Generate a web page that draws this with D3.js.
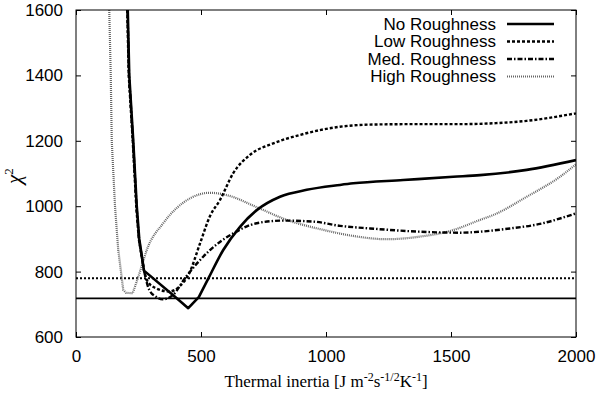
<!DOCTYPE html>
<html><head><meta charset="utf-8">
<script src="https://cdn.jsdelivr.net/npm/d3@7"></script>
<style>body{margin:0;background:#fff}</style>
</head><body>
<svg id="c" width="600" height="393"></svg>
<script>
const xTicks = [0, 500, 1000, 1500, 2000];
const yTicks = [600, 800, 1000, 1200, 1400, 1600];
const seriesNames = ["No Roughness", "Low Roughness", "Med. Roughness", "High Roughness"];
const noRough = [[207,1600],[213,1400],[229,1200],[243,1000],[253,900],[272,803],[396,723],[449,688],[492,723],[530,780],[589,866],[656,937],[723,988],[816,1029],[923,1050],[1056,1065],[1109,1070],[1309,1080],[1509,1090],[1616,1095],[1803,1111],[2000,1141]];
const lowRough = [[205,1600],[211,1400],[227,1200],[241,1000],[251,900],[272,803],[287,769],[320,749],[373,739],[413,754],[453,795],[496,886],[536,970],[576,1019],[629,1101],[696,1157],[789,1192],[896,1218],[1056,1243],[1200,1250],[1376,1251],[1536,1251],[1680,1254],[1803,1261],[2000,1284]];
const medRough = [[206,1600],[212,1400],[228,1200],[242,1000],[252,900],[272,803],[293,744],[320,723],[347,715],[387,728],[440,784],[536,866],[629,917],[723,948],[829,956],[949,953],[1056,940],[1176,932],[1376,922],[1536,919],[1616,922],[1736,932],[1850,945],[2000,978]];
const highRough = [[133,1600],[139,1400],[143,1200],[156,1000],[169,866],[189,744],[200,735],[227,734],[256,800],[283,866],[349,948],[456,1024],[536,1041],[603,1034],[723,997],[843,958],[976,930],[1109,909],[1243,899],[1376,907],[1509,927],[1616,958],[1669,973],[1803,1029],[1936,1090],[2000,1128]];
const refNo = 718;
const refLow = 780;

const svg = d3.select("#c");
const L = 76, T = 10, W = 500, H = 327;
const x = d3.scaleLinear().domain([0, 2000]).range([L, L + W]);
const y = d3.scaleLinear().domain([600, 1600]).range([T + H, T]);
const sans = "'Liberation Sans', Arial, sans-serif";
const serif = "'Liberation Serif', 'Times New Roman', serif";
const fmt = d3.format("d");

svg.append("defs").append("clipPath").attr("id", "clip")
  .append("rect").attr("x", L).attr("y", T).attr("width", W).attr("height", H);

function styleAxis(g, labels) {
  g.select(".domain").remove();
  g.selectAll(".tick line").attr("stroke", "#000").attr("stroke-width", 1);
  g.selectAll("text").attr("font-family", sans).attr("font-size", 17).attr("fill", "#000");
  if (!labels) g.selectAll("text").remove();
}
svg.append("g").attr("transform", `translate(0,${T + H})`)
  .call(d3.axisBottom(x).tickValues(xTicks).tickFormat(fmt).tickSize(-5).tickSizeOuter(0).tickPadding(13))
  .call(g => styleAxis(g, true));
svg.append("g").attr("transform", `translate(0,${T})`)
  .call(d3.axisTop(x).tickValues(xTicks).tickSize(-5).tickSizeOuter(0))
  .call(g => styleAxis(g, false));
svg.append("g").attr("transform", `translate(${L},0)`)
  .call(d3.axisLeft(y).tickValues(yTicks).tickFormat(fmt).tickSize(-5).tickSizeOuter(0).tickPadding(13))
  .call(g => styleAxis(g, true));
svg.append("g").attr("transform", `translate(${L + W},0)`)
  .call(d3.axisRight(y).tickValues(yTicks).tickSize(-5).tickSizeOuter(0))
  .call(g => styleAxis(g, false));

const plot = svg.append("g").attr("clip-path", "url(#clip)");
plot.append("line").attr("x1", x(0)).attr("x2", x(2000)).attr("y1", y(refNo)).attr("y2", y(refNo))
  .attr("stroke", "#000").attr("stroke-width", 1.6);
plot.append("line").attr("x1", x(0)).attr("x2", x(2000)).attr("y1", y(refLow)).attr("y2", y(refLow))
  .attr("stroke", "#000").attr("stroke-width", 2).attr("stroke-dasharray", "2,2");

// split: piecewise-linear low-inertia part, smooth high-inertia part
const styles = [
  {data: noRough, color: "#000", width: 2.6, dash: null, split: 492},
  {data: lowRough, color: "#000", width: 2.4, dash: "3,2", split: 272},
  {data: medRough, color: "#000", width: 2.4, dash: "5,2,1.5,2", split: 272},
  {data: highRough, color: "#666", width: 2.2, dash: "1,1", split: 227}
];
const lineLin = d3.line().x(d => x(d[0])).y(d => y(d[1])).curve(d3.curveLinear);
const lineSmooth = d3.line().x(d => x(d[0])).y(d => y(d[1])).curve(d3.curveMonotoneX);
styles.slice().reverse().forEach(s => {
  const a = s.data.filter(d => d[0] <= s.split);
  const b = s.data.filter(d => d[0] >= s.split);
  const dstr = lineLin(a) + lineSmooth(b).replace(/^M[^A-Za-z]*/, "L" + x(a[a.length-1][0]) + "," + y(a[a.length-1][1]));
  plot.append("path").attr("d", dstr).attr("fill", "none")
    .attr("stroke", s.color).attr("stroke-width", s.width)
    .attr("stroke-dasharray", s.dash).attr("stroke-linejoin", "round");
});

svg.append("rect").attr("x", L).attr("y", T).attr("width", W).attr("height", H)
  .attr("fill", "none").attr("stroke", "#000").attr("stroke-width", 1);

const legY = [24, 41.5, 59, 76.5];
seriesNames.forEach((n, i) => {
  svg.append("text").attr("x", 496).attr("y", legY[i]).attr("dy", "0.35em")
    .attr("text-anchor", "end").attr("font-family", sans).attr("font-size", 17).text(n);
  svg.append("line").attr("x1", 507).attr("x2", 554).attr("y1", legY[i]).attr("y2", legY[i])
    .attr("stroke", styles[i].color).attr("stroke-width", styles[i].width)
    .attr("stroke-dasharray", styles[i].dash);
});

const xt = svg.append("text").attr("x", 326).attr("y", 387).attr("text-anchor", "middle")
  .attr("font-family", serif).attr("font-size", 17);
xt.append("tspan").text("Thermal inertia [J m");
xt.append("tspan").attr("dy", -6).attr("font-size", 12).text("-2");
xt.append("tspan").attr("dy", 6).text("s");
xt.append("tspan").attr("dy", -6).attr("font-size", 12).text("-1/2");
xt.append("tspan").attr("dy", 6).text("K");
xt.append("tspan").attr("dy", -6).attr("font-size", 12).text("-1");
xt.append("tspan").attr("dy", 6).text("]");

const yt = svg.append("text").attr("transform", "translate(21,176) rotate(-90)")
  .attr("text-anchor", "middle").attr("font-family", serif).attr("font-size", 21);
yt.append("tspan").attr("font-style", "italic").text("χ");
yt.append("tspan").attr("dy", -8).attr("font-size", 13).text("2");
</script>
</body></html>
